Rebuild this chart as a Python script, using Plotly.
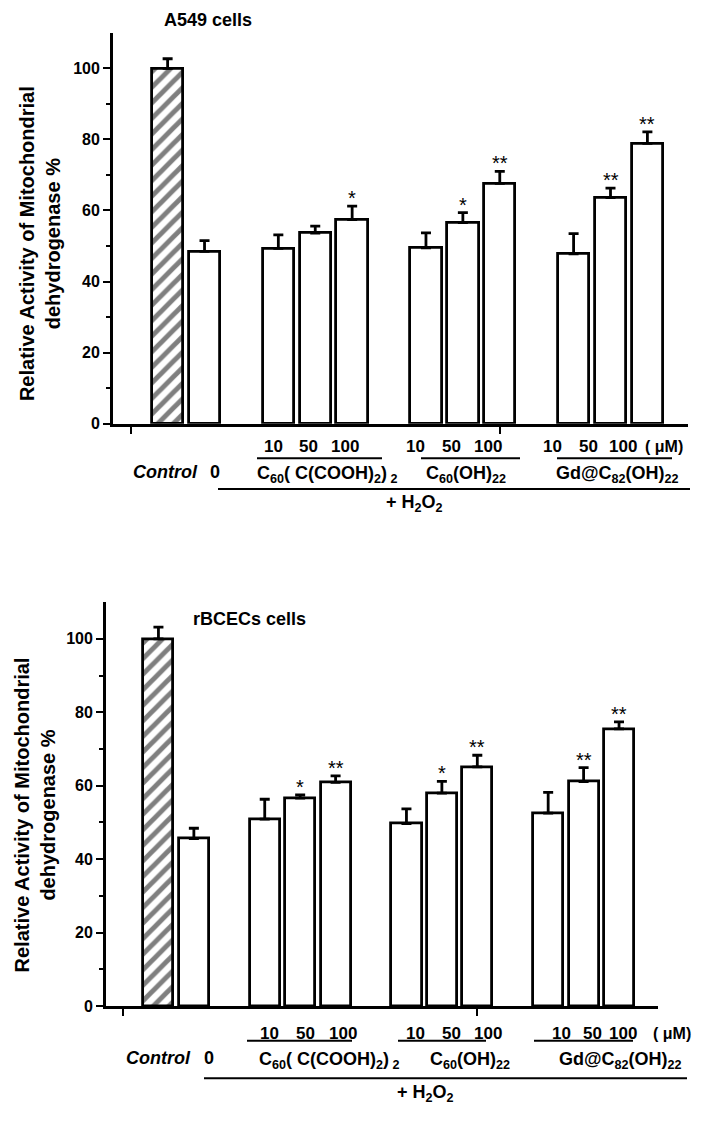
import plotly.graph_objects as go

# ---------------- data ----------------
bar_pos = [0, 1, 3, 4, 5, 7, 8, 9, 11, 12, 13]
bar_names = ["Control", "0", "10", "50", "100", "10", "50", "100", "10", "50", "100"]

a549_vals = [100, 48.5, 49.3, 53.6, 57.4, 49.5, 56.6, 67.6, 47.8, 63.6, 78.9]
a549_err = [2.7, 3.0, 3.8, 2.0, 3.8, 4.2, 2.8, 3.4, 5.7, 2.7, 3.2]
a549_sig = ["", "", "", "", "*", "", "*", "**", "", "**", "**"]

rbcec_vals = [100, 45.6, 50.9, 56.6, 60.9, 49.7, 58.0, 65.1, 52.5, 61.1, 75.5]
rbcec_err = [3.2, 2.8, 5.4, 0.9, 1.8, 4.0, 3.2, 3.2, 5.7, 3.8, 1.9]
rbcec_sig = ["", "", "", "*", "**", "", "*", "**", "", "**", "**"]

y_ticks = [0, 20, 40, 60, 80, 100]
y_minor = [10, 30, 50, 70, 90]

# page body has an 8px margin: figure is drawn from (8,8)
OFF = 8
W, H = 701 - OFF, 1127 - OFF
FONT = "Liberation Sans, Arial, sans-serif"


def px(x):
    return (x - OFF) / W


def py(y):
    return 1 - (y - OFF) / H


fig = go.Figure()

panels = [
    dict(vals=a549_vals, err=a549_err, sig=a549_sig, xa="x", ya="y",
         xdom=[px(113), px(688)], ydom=[py(427), py(33)]),
    dict(vals=rbcec_vals, err=rbcec_err, sig=rbcec_sig, xa="x2", ya="y2",
         xdom=[px(106), px(658)], ydom=[py(1014), py(607)]),
]

for p in panels:
    shapes_pat = ["/"] + [""] * (len(p["vals"]) - 1)
    fig.add_trace(go.Bar(
        x=bar_pos, y=p["vals"], xaxis=p["xa"], yaxis=p["ya"], width=0.85,
        marker=dict(color="white", line=dict(color="black", width=2.8),
                    pattern=dict(shape=shapes_pat, fgcolor="black", bgcolor="white",
                                 size=11, solidity=0.45, fillmode="overlay")),
        error_y=dict(type="data", symmetric=False, array=p["err"],
                     arrayminus=[0] * len(p["err"]), color="black",
                     thickness=2.8, width=5),
        showlegend=False, hoverinfo="skip",
    ))
    tops = [v + e for v, e in zip(p["vals"], p["err"])]
    for xv, t, s in zip(bar_pos, tops, p["sig"]):
        if s:
            fig.add_annotation(x=xv, y=t, xref=p["xa"], yref=p["ya"], text=s,
                               showarrow=False, yanchor="bottom", yshift=-5,
                               font=dict(family=FONT, size=20, color="black"))

axis_common = dict(showline=True, linecolor="black", linewidth=2.8, mirror=False,
                   showgrid=False, zeroline=False)

layout_axes = {}
for i, p in enumerate(panels):
    sx = "" if i == 0 else "2"
    layout_axes["xaxis" + sx] = dict(
        axis_common, domain=p["xdom"], range=[-1.48, 14.1],
        anchor="y" + sx, tickmode="array", tickvals=[-1, 9], ticktext=["", ""],
        ticks="outside", ticklen=7, tickwidth=2.4, tickcolor="black")
    layout_axes["yaxis" + sx] = dict(
        axis_common, domain=p["ydom"], range=[0, 110], anchor="x" + sx,
        tickmode="array", tickvals=y_ticks, ticks="outside", ticklen=7,
        tickwidth=2.4, tickcolor="black",
        tickfont=dict(family=FONT, size=16, color="black", weight="bold"),
        minor=dict(tickmode="array", tickvals=y_minor, ticks="outside",
                   ticklen=4, tickwidth=2.4, tickcolor="black"))

fig.update_layout(
    width=W, height=H, margin=dict(l=0, r=0, t=0, b=0),
    paper_bgcolor="white", plot_bgcolor="white", bargap=0,
    **layout_axes,
)

bold = dict(family=FONT, size=18, color="black", weight="bold")


def txt(x, y, s, font=bold, angle=0, anchor="center"):
    fig.add_annotation(x=px(x), y=py(y), xref="paper", yref="paper", text=s,
                       showarrow=False, xanchor=anchor, yanchor="middle",
                       font=font, textangle=angle)


def hline(x0, x1, y, w=2):
    fig.add_shape(type="line", xref="paper", yref="paper", x0=px(x0), x1=px(x1),
                  y0=py(y), y1=py(y), line=dict(color="black", width=w))


# titles
txt(208, 20, "A549 cells", dict(bold, size=18))
txt(249, 624, "rBCECs cells", dict(bold, size=18))

ytitle = "Relative Activity of Mitochondrial<br>dehydrogenase %"
txt(40, 246, ytitle, dict(bold, size=20), angle=-90)
txt(35, 822, ytitle, dict(bold, size=20), angle=-90)

f1 = "C<sub>60</sub>( C(COOH)<sub>2</sub>)<sub> 2</sub>"
f2 = "C<sub>60</sub>(OH)<sub>22</sub>"
f3 = "Gd@C<sub>82</sub>(OH)<sub>22</sub>"
h2o2 = "+ H<sub>2</sub>O<sub>2</sub>"
num = dict(bold, size=17)
unit = dict(bold, size=16)

# lower label block, top panel
row1 = 450
for x, s in [(273, "10"), (308, "50"), (345, "100"),
             (415, "10"), (452, "50"), (488, "100"),
             (552, "10"), (588, "50"), (623, "100")]:
    txt(x, row1, s, num)
txt(685, row1, "( μM)", unit, anchor="right")
hline(257, 382, 462)
hline(421, 520, 462)
hline(557, 672, 462)
txt(165, 476, "<i>Control</i>")
txt(215, 476, "0")
txt(327, 478, f1)
txt(466, 478, f2)
txt(617, 478, f3)
hline(218, 690, 493)
txt(414, 508, h2o2)

# lower label block, bottom panel
row2 = 1042
for x, s in [(269, "10"), (305, "50"), (343, "100"),
             (415, "10"), (452, "50"), (488, "100"),
             (561, "10"), (592, "50"), (623, "100")]:
    txt(x, row2, s, num)
txt(693, row2, "( μM)", unit, anchor="right")
hline(247, 352, 1049)
hline(398, 486, 1049)
hline(534, 633, 1049)
txt(158, 1067, "<i>Control</i>")
txt(209, 1067, "0")
txt(329, 1069, f1)
txt(470, 1069, f2)
txt(620, 1069, f3)
hline(204, 687, 1087)
txt(425, 1102, h2o2)

fig.write_html("out.html")
